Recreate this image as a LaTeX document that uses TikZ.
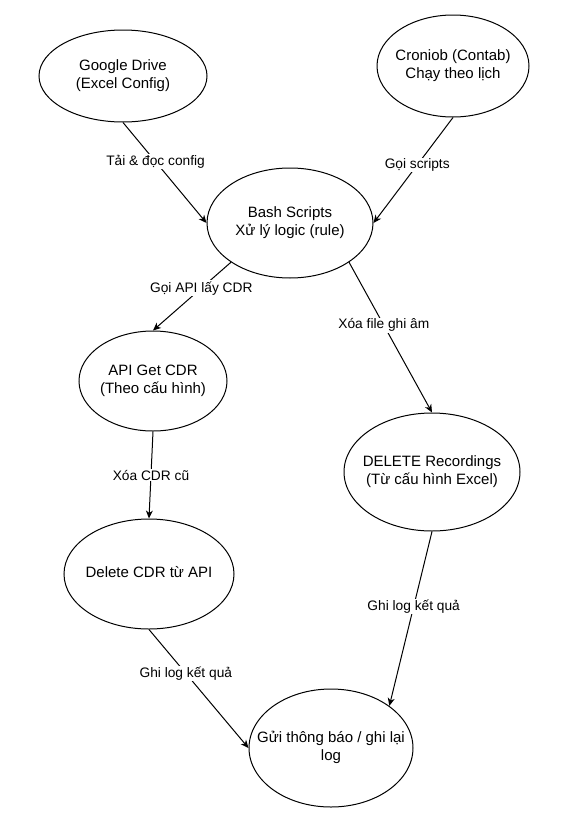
\documentclass[tikz,border=0pt]{standalone}
\usepackage{fontspec}
\setmainfont{Liberation Sans}
\usetikzlibrary{shapes.geometric,arrows.meta}
\newcommand{\ctext}[1]{\makebox[0pt][c]{\begin{tabular}{@{}c@{}}#1\end{tabular}}}
\begin{document}
\begin{tikzpicture}[x=1pt,y=-1pt,
  el/.style 2 args={ellipse, draw, line width=1pt, inner sep=0pt, minimum width=#1pt, minimum height=#2pt, font=\fontsize{15}{18}\selectfont},
  conn/.style={line width=1pt, -{Stealth[length=8pt,width=7pt,inset=2.5pt]}},
  lbl/.style={fill=white, inner sep=1pt, font=\fontsize{13.75}{16}\selectfont}]
\useasboundingbox[fill=white] (0,0) rectangle (583,827);

\node[el={168}{92}] (gd) at (123,76) {\ctext{Google Drive\\(Excel Config)}};
\node[el={152}{102}] (cron) at (453,66) {\ctext{Croniob (Contab)\\Chạy theo lịch}};
\node[el={166}{110}] (bash) at (290,223) {\ctext{Bash Scripts\\Xử lý logic (rule)}};
\node[el={148}{100}] (api) at (153,381) {\ctext{API Get CDR\\(Theo cấu hình)}};
\node[el={176}{118}] (del) at (432,472) {\ctext{DELETE Recordings\\(Từ cấu hình Excel)}};
\node[el={170}{110}] (dcdr) at (149,574) {\ctext{Delete CDR từ API}};
\node[el={164}{118}] (log) at (331,748) {\ctext{Gửi thông báo / ghi lại\\log}};

\draw[conn] (gd.south) -- node[lbl, pos=0.39] {Tải \& đọc config} (bash.west);
\draw[conn] (cron.south) -- node[lbl, pos=0.45] {Gọi scripts} (bash.east);
\draw[conn] (bash.south west) -- node[lbl, pos=0.38] {Gọi API lấy CDR} (api.north);
\draw[conn] (bash.south east) -- node[lbl, pos=0.42] {Xóa file ghi âm} (del.north);
\draw[conn] (api.south) -- node[lbl, pos=0.5] {Xóa CDR cũ} (dcdr.north);
\draw[conn] (dcdr.south) -- node[lbl, pos=0.37] {Ghi log kết quả} (log.west);
\draw[conn] (del.south) -- node[lbl, pos=0.43] {Ghi log kết quả} (log.north east);
\end{tikzpicture}
\end{document}
